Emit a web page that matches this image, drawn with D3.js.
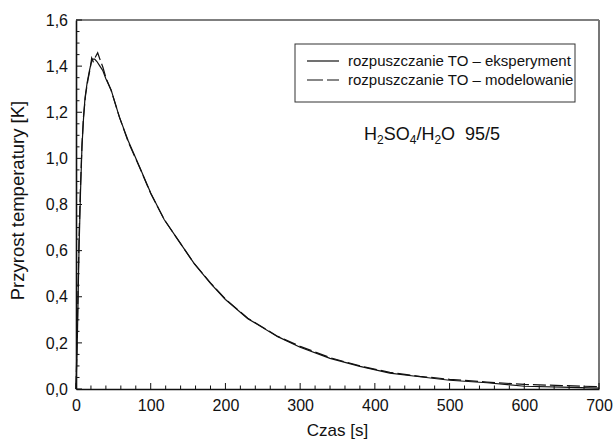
<!DOCTYPE html>
<html>
<head>
<meta charset="utf-8">
<script src="https://cdn.jsdelivr.net/npm/d3@7"></script>
<style>
  body { margin: 0; background: #fff; }
  svg text { font-family: "Liberation Sans", Arial, sans-serif; fill: #111; }
</style>
</head>
<body>
<svg id="chart"></svg>
<script>
// time [s] and temperature rise [K]
const expTime = [0, 2, 4, 6, 8, 10, 12, 15, 18, 20, 22, 25, 28, 32, 36, 40, 47, 58, 70, 85, 100, 118, 140, 158, 180, 200, 230, 270, 300, 340, 380, 420, 460, 500, 550, 600, 650, 700];
const expTemp = [0, 0.25, 0.6, 0.85, 1.05, 1.17, 1.26, 1.33, 1.38, 1.41, 1.43, 1.43, 1.42, 1.40, 1.38, 1.345, 1.297, 1.18, 1.075, 0.964, 0.85, 0.735, 0.63, 0.545, 0.458, 0.388, 0.305, 0.227, 0.181, 0.133, 0.098, 0.069, 0.053, 0.038, 0.027, 0.012, 0.008, 0.004];

const modTime = [0, 2, 4, 6, 8, 10, 13, 16, 19, 21, 23, 26, 29, 32, 36, 40, 47, 58, 70, 85, 100, 118, 140, 158, 180, 200, 230, 270, 300, 340, 380, 420, 460, 500, 550, 600, 650, 700];
const modTemp = [0, 0.3, 0.65, 0.88, 1.06, 1.18, 1.28, 1.34, 1.39, 1.435, 1.42, 1.44, 1.458, 1.43, 1.395, 1.35, 1.295, 1.18, 1.07, 0.962, 0.848, 0.735, 0.63, 0.545, 0.46, 0.39, 0.307, 0.228, 0.185, 0.136, 0.1, 0.072, 0.055, 0.042, 0.03, 0.02, 0.015, 0.01];

const xTicks = [0, 100, 200, 300, 400, 500, 600, 700];
const yTicks = [0, 0.2, 0.4, 0.6, 0.8, 1.0, 1.2, 1.4, 1.6];
const legendLabels = ["rozpuszczanie TO \u2013 eksperyment", "rozpuszczanie TO \u2013 modelowanie"];

const W = 616, H = 441;
const margin = {top: 20, right: 17, bottom: 52, left: 76};
const width = W - margin.left - margin.right;
const height = H - margin.top - margin.bottom;

const svg = d3.select('#chart').attr('width', W).attr('height', H);
const chart = svg.append('g').attr('transform', `translate(${margin.left},${margin.top})`);

const xScale = d3.scaleLinear().domain([0, 700]).range([0, width]);
const yScale = d3.scaleLinear().domain([0, 1.6]).range([height, 0]);

// frame: top and right lighter
chart.append('line').attr('x1', 0).attr('x2', width).attr('y1', 0).attr('y2', 0)
  .attr('stroke', '#555').attr('stroke-width', 1.3);
chart.append('line').attr('x1', width).attr('x2', width).attr('y1', 0).attr('y2', height)
  .attr('stroke', '#777').attr('stroke-width', 2);

// minor ticks (inside)
const xMinor = d3.range(0, 701, 20);
const yMinor = d3.range(0, 1.6001, 0.05);
chart.selectAll('.xminor').data(xMinor).enter().append('line')
  .attr('x1', d => xScale(d)).attr('x2', d => xScale(d))
  .attr('y1', height).attr('y2', d => height - (d % 100 === 0 ? 6 : 3.5))
  .attr('stroke', '#111').attr('stroke-width', 1);
chart.selectAll('.yminor').data(yMinor).enter().append('line')
  .attr('y1', d => yScale(d)).attr('y2', d => yScale(d))
  .attr('x1', 0).attr('x2', d => (Math.abs(d * 5 - Math.round(d * 5)) < 1e-6 ? 6 : 3.5))
  .attr('stroke', '#111').attr('stroke-width', 1);

// axes
const fmt = d3.format('.1f');
const xAxis = d3.axisBottom(xScale).tickValues(xTicks).tickSize(0).tickPadding(8).tickFormat(d => d);
const yAxis = d3.axisLeft(yScale).tickValues(yTicks).tickSize(0).tickPadding(8)
  .tickFormat(d => fmt(d).replace('.', ','));

const xg = chart.append('g').attr('transform', `translate(0,${height})`).call(xAxis);
const yg = chart.append('g').call(yAxis);
[xg, yg].forEach(g => {
  g.select('.domain').attr('stroke', '#111').attr('stroke-width', 1.6);
  g.selectAll('text').attr('font-size', 16).attr('fill', '#111')
    .attr('font-family', '"Liberation Sans", Arial, sans-serif');
});
xg.selectAll('text').attr('dy', '0.85em');

// curves
const line = d3.line().x(d => xScale(d[0])).y(d => yScale(d[1]));
const expData = expTime.map((t, i) => [t, expTemp[i]]);
const modData = modTime.map((t, i) => [t, modTemp[i]]);

chart.append('path').datum(expData).attr('d', line)
  .attr('fill', 'none').attr('stroke', '#111').attr('stroke-width', 1.2);
chart.append('path').datum(modData).attr('d', line)
  .attr('fill', 'none').attr('stroke', '#111').attr('stroke-width', 1.2)
  .attr('stroke-dasharray', '13,4');

// legend
const lg = svg.append('g');
lg.append('rect').attr('x', 295).attr('y', 44).attr('width', 280).attr('height', 58)
  .attr('fill', '#fff').attr('stroke', '#333').attr('stroke-width', 1);
legendLabels.forEach((lab, i) => {
  const y = 61 + i * 19;
  lg.append('line').attr('x1', 307).attr('x2', 339).attr('y1', y).attr('y2', y)
    .attr('stroke', '#111').attr('stroke-width', 1.2)
    .attr('stroke-dasharray', i === 1 ? '16,4' : null);
  lg.append('text').attr('x', 348).attr('y', y + 5).attr('font-size', 15).text(lab);
});

// annotation H2SO4/H2O 95/5
const ann = svg.append('text').attr('x', 364).attr('y', 140).attr('font-size', 18);
ann.append('tspan').text('H');
ann.append('tspan').attr('font-size', 12).attr('dy', 4).text('2');
ann.append('tspan').attr('dy', -4).text('SO');
ann.append('tspan').attr('font-size', 12).attr('dy', 4).text('4');
ann.append('tspan').attr('dy', -4).text('/H');
ann.append('tspan').attr('font-size', 12).attr('dy', 4).text('2');
ann.append('tspan').attr('dy', -4).text('O\u00a0\u00a095/5');

// axis titles
svg.append('text').attr('x', margin.left + width / 2).attr('y', 436)
  .attr('text-anchor', 'middle').attr('font-size', 17).text('Czas [s]');
svg.append('text').attr('transform', `translate(24,${margin.top + height / 2 - 4}) rotate(-90)`)
  .attr('text-anchor', 'middle').attr('font-size', 18.5).text('Przyrost temperatury [K]');
</script>
</body>
</html>
